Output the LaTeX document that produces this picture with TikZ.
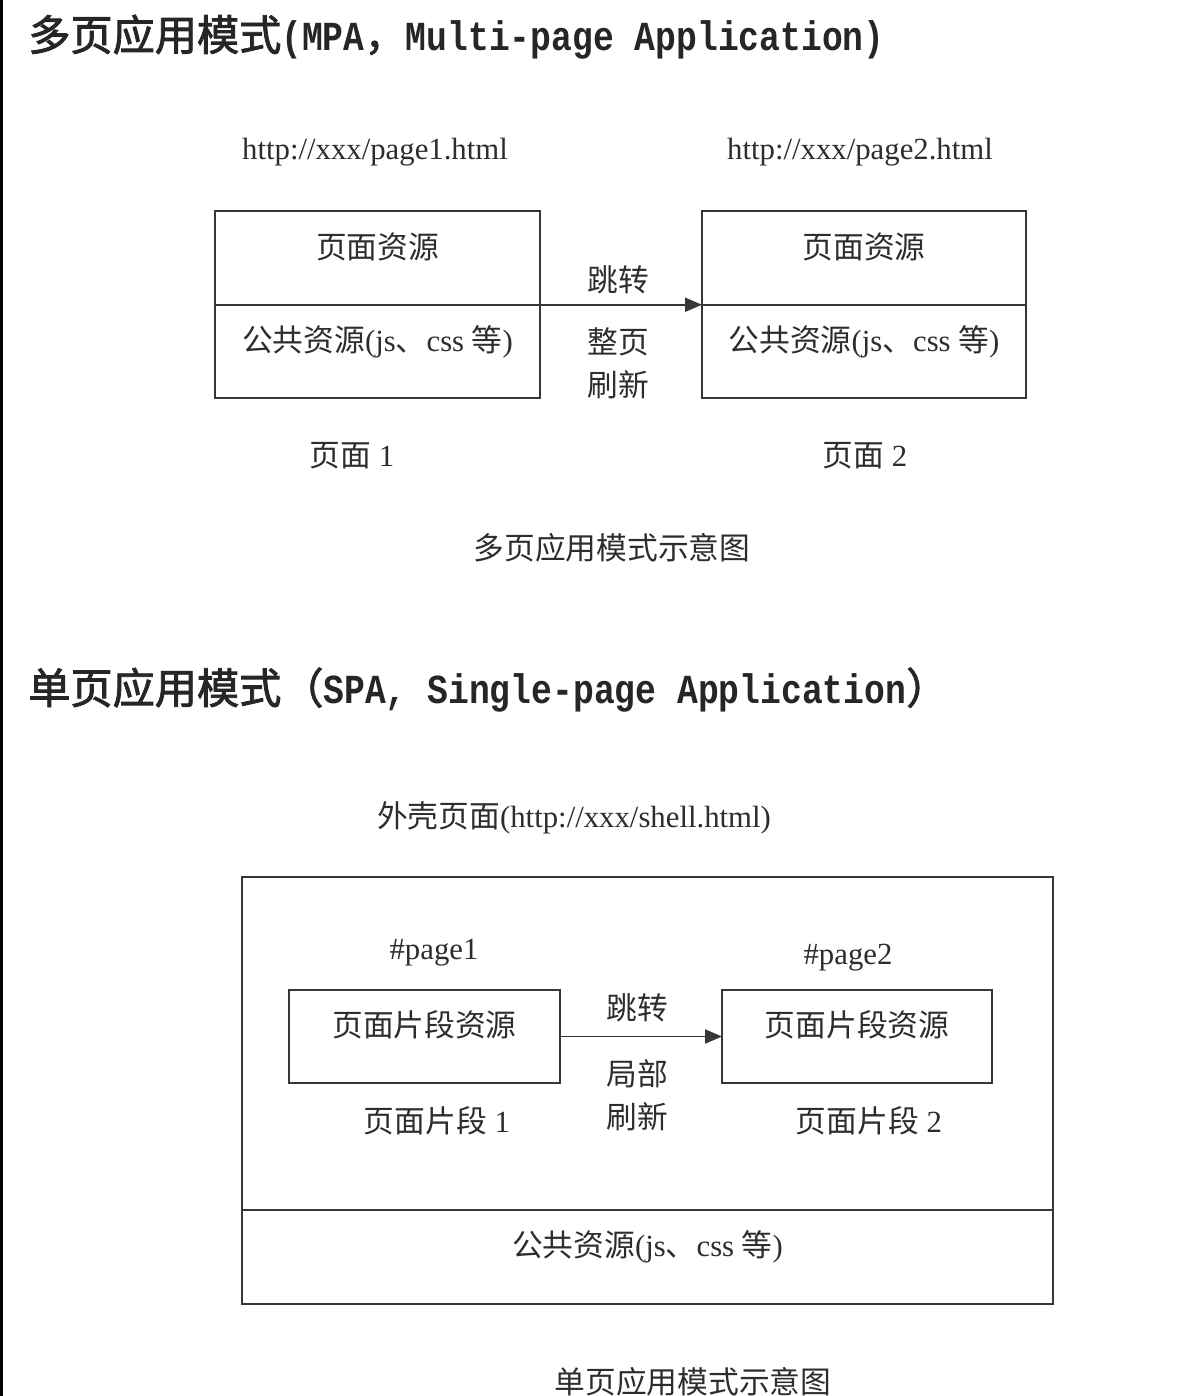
\documentclass[tikz,border=0pt]{standalone}
\usepackage{fontspec}
\setmainfont{Liberation Serif}
\newfontfamily\zhfont{Noto Sans CJK SC}
\newfontfamily\zhbold[FakeBold=2]{Noto Sans CJK SC}
\newfontfamily\titlemono[FakeStretch=0.84]{Liberation Mono}
\usepackage{tikz}
\usetikzlibrary{arrows.meta, positioning}
\definecolor{linegray}{RGB}{55,55,55}
\definecolor{inkgray}{RGB}{45,45,45}
\newcommand{\zh}[1]{{\zhfont #1}}
\newcommand{\zhb}[1]{{\zhbold #1}}
\newcommand{\latb}[1]{{\titlemono\bfseries #1}}
\tikzset{
  boxtext/.style={text=inkgray, font=\fontsize{17.5}{21}\selectfont},
  pagebox/.style={boxtext, draw=linegray, line width=1.1pt, outer sep=0pt,
    inner sep=0pt, text height=0.4cm, text depth=0.4cm},
  jump/.style={-{Triangle[length=0.34cm, width=0.28cm]}, draw=linegray, line width=1.1pt},
  heading/.style={anchor=west, text=black!85, inner sep=0pt},
}

\begin{document}
\begin{tikzpicture}[x=0.02cm, y=-0.02cm]
  \useasboundingbox (0,0) rectangle (1186,1396);
  % left edge
  \draw[black, line width=2pt] (1,0) -- (1,1396);

  % ---------- MPA ----------
  \node[heading] (mpatitle) at (28,37)
    {\fontsize{24}{28}\selectfont\zhb{多页应用模式}\fontsize{23.5}{28}\selectfont\latb{(MPA}\zhb{，}\latb{Multi-page Application)}};

  \node[boxtext] (url1) at (375,152) {http://xxx/page1.html};
  \node[boxtext] (url2) at (860,152) {http://xxx/page2.html};

  \node[pagebox, minimum width=6.5cm, minimum height=1.87cm] (p1res) at (377.5,258) {\zh{页面资源}};
  \node[pagebox, minimum width=6.5cm, minimum height=1.87cm, below=0pt of p1res] (p1com)
    {\zh{公共资源}(js\zh{、}css \zh{等})};
  \node[pagebox, minimum width=6.48cm, minimum height=1.87cm] (p2res) at (864,258) {\zh{页面资源}};
  \node[pagebox, minimum width=6.48cm, minimum height=1.87cm, below=0pt of p2res] (p2com)
    {\zh{公共资源}(js\zh{、}css \zh{等})};

  \draw[jump] (p1res.south east) -- (p2res.south west);
  \node[boxtext] (jump1) at (618,280) {\zh{跳转}};
  \node[boxtext, align=center] (reload1) at (618,363) {\zh{整页}\\[0.12cm]\zh{刷新}};

  \node[boxtext] (p1name) at (352,456) {\zh{页面} 1};
  \node[boxtext] (p2name) at (865,456) {\zh{页面} 2};
  \node[boxtext] (mpacap) at (612,548) {\zh{多页应用模式示意图}};

  % ---------- SPA ----------
  \node[heading] (spatitle) at (28,690)
    {\fontsize{24}{28}\selectfont\zhb{单页应用模式（}\fontsize{23.5}{28}\selectfont\latb{SPA, Single-page Application}\fontsize{24}{28}\selectfont\zhb{）}};

  \node[boxtext] (shellurl) at (574,818) {\zh{外壳页面}(http://xxx/shell.html)};

  \node[pagebox, minimum width=16.22cm, minimum height=6.66cm] (shell) at (647.5,1043.5) {};
  \node[pagebox, minimum width=16.22cm, minimum height=1.88cm, below=0pt of shell] (spacom)
    {\zh{公共资源}(js\zh{、}css \zh{等})};

  \node[boxtext] (hash1) at (434,953) {\#page1};
  \node[boxtext] (hash2) at (848,958) {\#page2};

  \node[pagebox, minimum width=5.42cm, minimum height=1.86cm] (frag1) at (424.5,1036.5) {\zh{页面片段资源}};
  \node[pagebox, minimum width=5.4cm, minimum height=1.86cm] (frag2) at (857,1036.5) {\zh{页面片段资源}};

  \draw[jump] (frag1.east) -- (frag2.west);
  \node[boxtext] (jump2) at (637,1008) {\zh{跳转}};
  \node[boxtext, align=center] (reload2) at (637,1095) {\zh{局部}\\[0.12cm]\zh{刷新}};

  \node[boxtext] (f1name) at (437,1121) {\zh{页面片段} 1};
  \node[boxtext] (f2name) at (869,1121) {\zh{页面片段} 2};
  \node[boxtext] (spacap) at (693,1382) {\zh{单页应用模式示意图}};
\end{tikzpicture}
\end{document}
